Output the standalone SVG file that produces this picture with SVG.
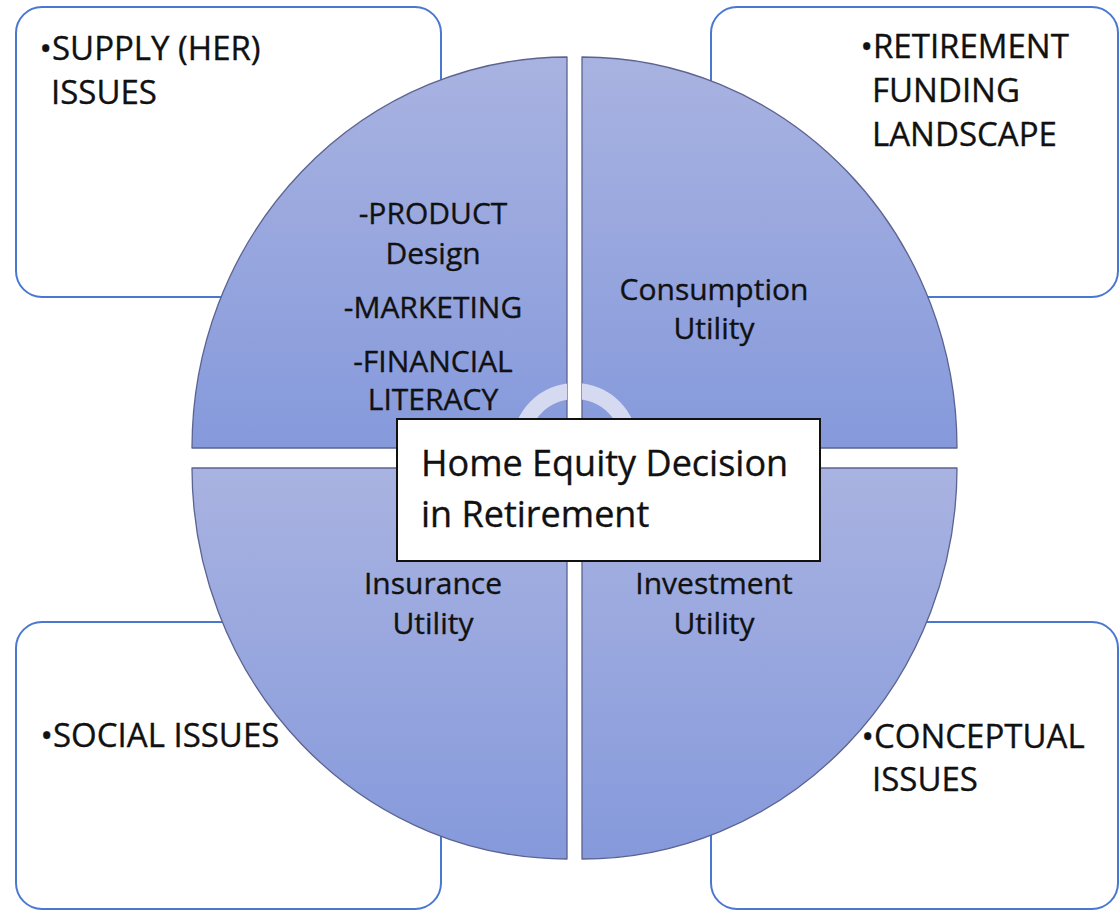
<svg xmlns="http://www.w3.org/2000/svg" width="1120" height="911" viewBox="0 0 1120 911">
  <defs>
    <linearGradient id="gradTop" x1="0" y1="57" x2="0" y2="448" gradientUnits="userSpaceOnUse">
      <stop offset="0" stop-color="#A9B3E1"/>
      <stop offset="1" stop-color="#8599DB"/>
    </linearGradient>
    <linearGradient id="gradBottom" x1="0" y1="468" x2="0" y2="859" gradientUnits="userSpaceOnUse">
      <stop offset="0" stop-color="#A9B3E1"/>
      <stop offset="1" stop-color="#8599DB"/>
    </linearGradient>
    <clipPath id="ringClip">
      <rect x="0" y="0" width="567" height="448"/>
      <rect x="582" y="0" width="538" height="448"/>
    </clipPath>
    <style>
      .panel { fill: #FFFFFF; stroke: #4A78D0; stroke-width: 2; }
      .quad { stroke: #5B6390; stroke-width: 1.3; stroke-linejoin: round; }
      .txt { font-family: "Open Sans", "Noto Sans", "Liberation Sans", sans-serif; fill: #111111; stroke: #111111; stroke-width: 0.35; }
      .corner { font-size: 33px; }
      .bullet { font-size: 33px; text-anchor: end; }
      .inner { font-size: 30px; text-anchor: middle; }
      .core { font-size: 36px; }
    </style>
  </defs>

  <!-- outer panels -->
  <g id="panel-supply">
    <rect class="panel" x="16" y="7" width="425" height="290" rx="26"/>
    <text class="txt bullet" x="52" y="60">•</text>
    <text class="txt corner" x="52" y="60">SUPPLY (HER)</text>
    <text class="txt corner" x="51" y="104">ISSUES</text>
  </g>
  <g id="panel-funding">
    <rect class="panel" x="711" y="7" width="407" height="290" rx="26"/>
    <text class="txt bullet" x="873" y="58">•</text>
    <text class="txt corner" x="873" y="58">RETIREMENT</text>
    <text class="txt corner" x="872" y="102">FUNDING</text>
    <text class="txt corner" x="872" y="146">LANDSCAPE</text>
  </g>
  <g id="panel-social">
    <rect class="panel" x="16" y="622" width="425" height="287" rx="26"/>
    <text class="txt bullet" x="53" y="747">•</text>
    <text class="txt corner" x="53" y="747">SOCIAL ISSUES</text>
  </g>
  <g id="panel-conceptual">
    <rect class="panel" x="711" y="622" width="407" height="287" rx="26"/>
    <text class="txt bullet" x="874" y="748">•</text>
    <text class="txt corner" x="874" y="748">CONCEPTUAL</text>
    <text class="txt corner" x="872" y="791">ISSUES</text>
  </g>

  <!-- circle quadrants -->
  <g id="quad-product">
    <path class="quad" fill="url(#gradTop)" d="M567,448 L192,448 A375,391 0 0 1 567,57 Z"/>
    <text class="txt inner" x="433" y="224">-PRODUCT</text>
    <text class="txt inner" x="433" y="264">Design</text>
    <text class="txt inner" x="433" y="318">-MARKETING</text>
    <text class="txt inner" x="433" y="372">-FINANCIAL</text>
    <text class="txt inner" x="433" y="410">LITERACY</text>
  </g>
  <g id="quad-consumption">
    <path class="quad" fill="url(#gradTop)" d="M582,448 L582,57 A375,391 0 0 1 957,448 Z"/>
    <text class="txt inner" x="714" y="300">Consumption</text>
    <text class="txt inner" x="714" y="339">Utility</text>
  </g>
  <g id="quad-insurance">
    <path class="quad" fill="url(#gradBottom)" d="M567,468 L567,859 A375,391 0 0 1 192,468 Z"/>
    <text class="txt inner" x="433" y="594">Insurance</text>
    <text class="txt inner" x="433" y="634">Utility</text>
  </g>
  <g id="quad-investment">
    <path class="quad" fill="url(#gradBottom)" d="M582,468 L957,468 A375,391 0 0 1 582,859 Z"/>
    <text class="txt inner" x="714" y="594">Investment</text>
    <text class="txt inner" x="714" y="634">Utility</text>
  </g>

  <!-- central ring behind the title box -->
  <g id="hub-ring" clip-path="url(#ringClip)">
    <path fill="#D5DAF0" fill-rule="evenodd" d="M512,446 A63,63 0 1 1 638,446 A63,63 0 1 1 512,446 Z M528,446 A47,47 0 1 0 622,446 A47,47 0 1 0 528,446 Z"/>
  </g>

  <!-- central title -->
  <g id="hub-title">
    <rect x="397" y="419" width="423" height="142" fill="#FFFFFF" stroke="#111111" stroke-width="2"/>
    <text class="txt core" x="421" y="476">Home Equity Decision</text>
    <text class="txt core" x="421" y="527">in Retirement</text>
  </g>

  <g id="connectors"/>
</svg>
